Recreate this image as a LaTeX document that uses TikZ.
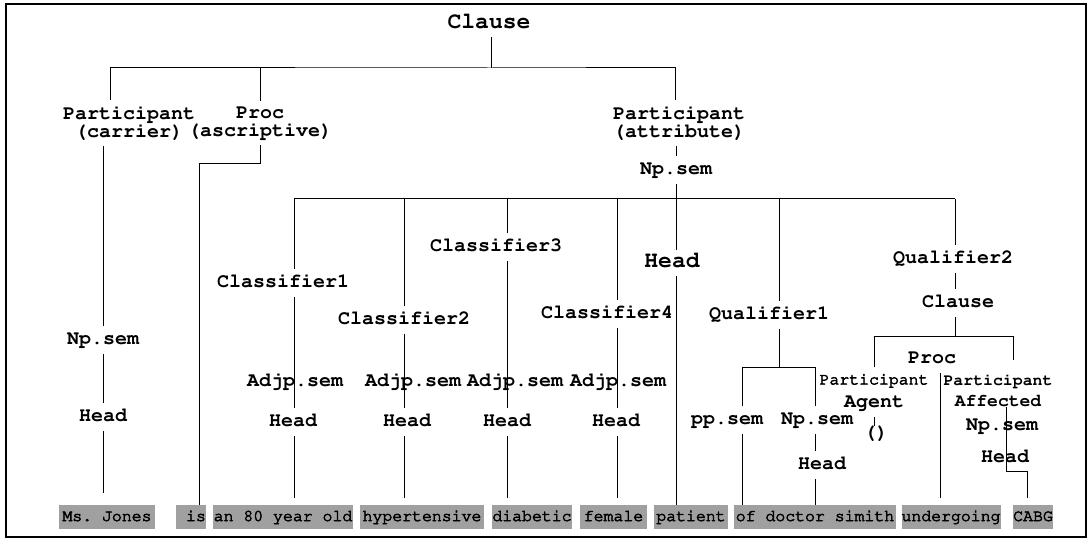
\documentclass[tikz,border=0pt]{standalone}
\usepackage[T1]{fontenc}
\usepackage{tikz}
\usetikzlibrary{positioning}
\definecolor{wordgray}{RGB}{160,160,160}
\newcommand{\labfont}[1]{\fontencoding{T1}\fontfamily{pcr}\fontseries{b}\fontsize{#1}{18}\selectfont}
\newcommand{\wordfont}{\fontencoding{T1}\fontfamily{pcr}\fontseries{m}\fontsize{16.5}{18}\selectfont\frenchspacing}
\newcommand{\heavy}[1]{\special{pdf:literal direct 2 Tr 0.6 w}#1\special{pdf:literal direct 0 Tr 0.99626 w}}
\tikzset{
        lab/.style={font=\labfont{20}, inner xsep=2pt, inner ysep=6pt, text height=11.5pt, text depth=3pt},
        biglab/.style={font=\labfont{23}, inner xsep=2pt, inner ysep=4pt, text height=13pt, text depth=3.5pt},
        twolab/.style={font=\labfont{20}, inner xsep=2pt, inner ysep=6pt, align=center},
        word/.style={fill=wordgray, font=\wordfont, inner sep=0pt, minimum height=24pt, text height=11pt, text depth=3pt},
}

\begin{document}
\begin{tikzpicture}[x=1pt, y=-1pt, line width=1pt]
        \useasboundingbox (0,0) rectangle (1092,540);
        \draw[line width=2pt] (6,4) rectangle (1086,537);

        % sentence
        \node[word, minimum width=96] (ms) at (107,517) {\heavy{Ms. Jones}};
        \node[word, minimum width=30] (is) at (191,517) {\heavy{\ is}};
        \node[word, minimum width=140] (old) at (283,517) {\heavy{an 80 year old}};
        \node[word, minimum width=124] (hyper) at (422,517) {\heavy{hypertensive}};
        \node[word, minimum width=80] (diab) at (532,517) {\heavy{diabetic}};
        \node[word, minimum width=67] (fem) at (613.5,517) {\heavy{female}};
        \node[word, minimum width=74] (pat) at (691,517) {\heavy{patient}};
        \node[word, minimum width=162] (doc) at (815,517) {\heavy{of doctor simith}};
        \node[word, minimum width=96] (und) at (951,517) {\heavy{undergoing}};
        \node[word, minimum width=40] (cabg) at (1033,517) {\heavy{CABG}};

        % clause level
        \node[biglab] (clause) at (489,24) {Clause};
        \node[twolab] (partc) at (129,123) {Participant\\(carrier)};
        \node[twolab] (proc1) at (260,123) {Proc\\(ascriptive)};
        \node[twolab] (parta) at (679,123) {Participant\\(attribute)};
        \node[lab] (npA) at (676,170) {Np.sem};
        \node[lab] (npC) at (103,340) {Np.sem};
        \node[lab] (hdC) at (103,417) {Head};

        \coordinate (b0) at (491,68);
        \coordinate (b2) at (676,199);
        \draw (b0 |- clause.south) -- (b0);
        \draw ([xshift=-19pt]partc.north) |- (b0) -| ([xshift=-4pt]parta.north);
        \draw (proc1.north) -- (proc1.north |- b0);
        \draw ([xshift=-26pt]partc.south) -- (npC);
        \draw (npC) -- (hdC);
        \draw (hdC) -- ([yshift=12pt]hdC.south |- ms.north);
        \draw (proc1.south) -- ++(0,18) -| ([xshift=8pt]is.north);
        \draw (b2 |- parta.south) -- (npA) -- (b2);

        % np.sem
        \node[lab] (cls1) at (283,283) {Classifier1};
        \node[lab] (adj1) at (295,382) {Adjp.sem};
        \node[lab] (hd1) at (293,422) {Head};
        \node[lab] (cls2) at (404,320) {Classifier2};
        \node[lab] (adj2) at (413,382) {Adjp.sem};
        \node[lab] (hd2) at (407,422) {Head};
        \node[lab] (cls3) at (496,247) {Classifier3};
        \node[lab] (adj3) at (515,382) {Adjp.sem};
        \node[lab] (hd3) at (507,422) {Head};
        \node[lab] (cls4) at (607,314) {Classifier4};
        \node[lab] (adj4) at (618,382) {Adjp.sem};
        \node[lab] (hd4) at (616,422) {Head};
        \node[biglab] (hdP) at (672,263) {Head};
        \node[lab] (qual1) at (769,315) {Qualifier1};
        \node[lab] (pp) at (727,420) {pp.sem};
        \node[lab] (npQ) at (817,420) {Np.sem};
        \node[lab] (hdQ) at (822,465) {Head};
        \node[lab] (qual2) at (953,259) {Qualifier2};
        \node[lab] (clq) at (958,303) {Clause};

        \coordinate (c1) at (294,199);
        \coordinate (c2) at (404,199);
        \coordinate (c3) at (507,199);
        \coordinate (c4) at (617,199);
        \coordinate (c6) at (779,199);
        \coordinate (c7) at (955,199);
        \draw (c1) -- (c7);
        \draw (c1) -- (c1 |- cls1.north);
        \draw (c1 |- cls1.south) -- (c1 |- hd1.north);
        \draw (c1 |- hd1.south) -- ([yshift=7pt]c1 |- old.north);
        \draw (c2) -- (c2 |- cls2.north);
        \draw (c2 |- cls2.south) -- (c2 |- hd2.north);
        \draw (c2 |- hd2.south) -- ([yshift=7pt]c2 |- hyper.north);
        \draw (c3) -- (c3 |- cls3.north);
        \draw (c3 |- cls3.south) -- (c3 |- hd3.north);
        \draw (c3 |- hd3.south) -- ([yshift=7pt]c3 |- diab.north);
        \draw (c4) -- (c4 |- cls4.north);
        \draw (c4 |- cls4.south) -- (c4 |- hd4.north);
        \draw (c4 |- hd4.south) -- ([yshift=7pt]c4 |- fem.north);
        \draw (b2) -- (b2 |- hdP.north);
        \draw (b2 |- hdP.south) -- (b2 |- pat.north);

        % qualifier1
        \coordinate (e1) at (742,367);
        \coordinate (e2) at (815,367);
        \draw (c6) -- (c6 |- qual1.north);
        \draw (c6 |- qual1.south) -- (c6 |- e1);
        \draw (e1 |- pp.north) -- (e1) -- (e2) -- (e2 |- npQ.north);
        \draw (e1 |- pp.south) -- (e1 |- doc.north);
        \draw (e2 |- npQ.south) -- (e2 |- hdQ.north);
        \draw (e2 |- hdQ.south) -- (e2 |- doc.north);

        % qualifier2
        \node[twolab] (partg) at (874,392) {{\fontseries{m}\fontsize{16.5}{18}\selectfont\heavy{Participant}}\\[5pt]Agent};
        \node[lab, inner ysep=0pt] (empty) at (876,434) {()};
        \node[lab] (proc2) at (932,359) {Proc};
        \node[twolab] (partf) at (998,391) {{\fontsize{16.5}{18}\selectfont Participant}\\[3pt]{\fontsize{18}{18}\selectfont Affected}};
        \node[lab] (npF) at (1002,426) {Np.sem};
        \node[lab] (hdF) at (1005,458) {Head};

        \coordinate (f1) at (874,336);
        \coordinate (f2) at (1013,336);
        \draw (c7) -- (c7 |- qual2.north);
        \draw (c7 |- qual2.south) -- (c7 |- clq.north);
        \draw (c7 |- clq.south) -- (c7 |- f1);
        \draw (f1 |- partg.north) -- (f1) -- (f2) -- ([yshift=8pt]f2 |- partf.north);
        \draw ([yshift=9pt]f1 |- empty.north) -- (f1 |- empty.north);
        \draw ([xshift=8pt]proc2.south) -- ([xshift=8pt,yshift=7pt]proc2.south |- und.north);
        \draw ([xshift=8pt,yshift=7pt]partf.south) |- ([xshift=-6pt]cabg.north |- hdF.south) -- ([xshift=-6pt,yshift=7pt]cabg.north);
\end{tikzpicture}
\end{document}
